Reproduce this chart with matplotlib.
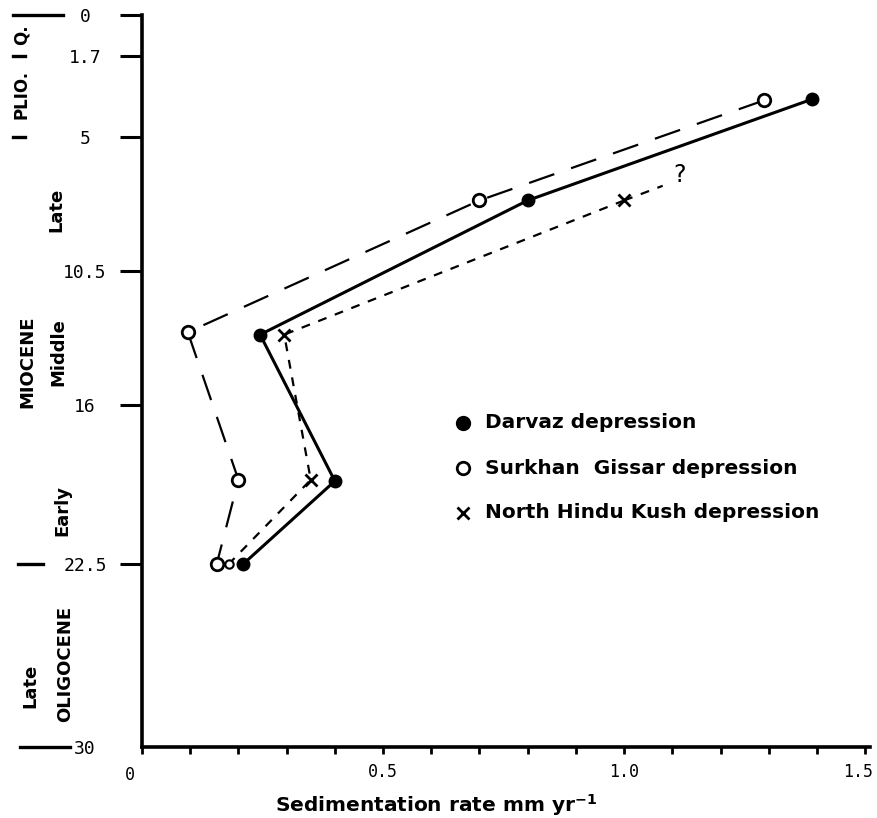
import matplotlib
matplotlib.use('Agg')
import matplotlib.pyplot as plt
import matplotlib.transforms as mtransforms

# sedimentation rate (mm/yr) vs age (Ma)
darvaz_rate = [1.39, 0.80, 0.245, 0.40, 0.21]
darvaz_age = [3.45, 7.6, 13.1, 19.1, 22.5]

surkhan_rate = [1.29, 0.70, 0.095, 0.20, 0.155]
surkhan_age = [3.5, 7.6, 13.0, 19.05, 22.5]

nhk_rate = [1.0, 0.295, 0.35, 0.18]
nhk_age = [7.6, 13.1, 19.05, 22.5]
# uncertain extension towards the "?"
nhk_q_rate = [1.0, 1.08]
nhk_q_age = [7.6, 7.0]

y_ticks = [0, 1.7, 5, 10.5, 16, 22.5, 30]
y_ticklabels = ['0', '1.7', '5', '10.5', '16', '22.5', '30']
x_ticks = [i / 10 for i in range(16)]
x_ticklabels = ['0', '', '', '', '', '0.5', '', '', '', '', '1.0', '', '', '', '', '1.5']

fig = plt.figure(figsize=(8.77, 8.18), dpi=100)
ax = fig.add_axes([142/877, 1 - 747/818, 728/877, 732/818])
ax.set_xlim(0, 1.51)
ax.set_ylim(30, 0)

for s in ['top', 'right']:
    ax.spines[s].set_visible(False)
for s in ['left', 'bottom']:
    ax.spines[s].set_linewidth(2.6)

# lines
ax.plot(darvaz_rate, darvaz_age, color='black', lw=2.2, marker='o', ms=9,
        mfc='black', mec='black', zorder=3)
ax.plot(surkhan_rate, surkhan_age, color='black', lw=1.6, ls=(0, (12, 8)),
        marker='o', ms=9, mfc='white', mec='black', mew=2, zorder=4)
ax.plot(nhk_rate, nhk_age, color='black', lw=1.6, ls=(0, (4, 4)),
        marker='x', ms=9, mew=2, markevery=[0, 1, 2], zorder=2)
ax.plot(nhk_rate[-1:], nhk_age[-1:], ls='none', marker='o', ms=6,
        mfc='white', mec='black', mew=1.5, zorder=2)
ax.plot(nhk_q_rate, nhk_q_age, color='black', lw=1.6, ls=(0, (4, 4)), zorder=2)
ax.text(nhk_q_rate[-1] + 0.035, nhk_q_age[-1] - 0.45, '?', fontsize=17,
        ha='center', va='center')

# y axis ticks
ax.set_yticks(y_ticks)
ax.set_yticklabels(y_ticklabels, fontfamily='DejaVu Sans Mono', fontsize=13)
ax.tick_params(axis='y', direction='out', length=16, width=2.2, pad=25)
for lab in ax.get_yticklabels():
    lab.set_ha('center')
ax.yaxis.get_major_ticks()[-1].tick1line.set_visible(False)

# x axis ticks
ax.set_xticks(x_ticks)
ax.set_xticklabels(x_ticklabels, fontfamily='DejaVu Sans Mono', fontsize=12)
ax.tick_params(axis='x', direction='out', length=5, width=2, pad=6.5)
xlabs = ax.get_xticklabels()
xlabs[0].set_transform(xlabs[0].get_transform() +
                       mtransforms.ScaledTranslation(-12/100, -3/100, fig.dpi_scale_trans))
xlabs[-1].set_transform(xlabs[-1].get_transform() +
                        mtransforms.ScaledTranslation(-7/100, 0, fig.dpi_scale_trans))

ax.set_xlabel(r'Sedimentation rate mm yr$^{\mathbf{-1}}$', fontsize=14.5, fontweight='bold')
ax.xaxis.set_label_coords((436 - 142) / 728, -0.062)

# stratigraphic labels on the left
yt = ax.get_yaxis_transform()
periods = [
    ('Q.', -0.165, 0.82, 12),
    ('PLIO.', -0.165, 3.25, 12),
    ('Late', -0.117, 8.0, 13),
    ('Middle', -0.115, 13.8, 13),
    ('MIOCENE', -0.158, 14.2, 13),
    ('Early', -0.110, 20.3, 13),
    ('Late', -0.154, 27.5, 13),
    ('OLIGOCENE', -0.106, 26.6, 13),
]
for txt, xx, yy, fs in periods:
    ax.text(xx, yy, txt, transform=yt, rotation=90, ha='center', va='center',
            fontsize=fs, fontweight='bold', clip_on=False)

bounds = [(0, -0.177, -0.109), (1.7, -0.177, -0.161), (5, -0.177, -0.161),
          (22.5, -0.170, -0.136), (30, -0.168, -0.099)]
for yy, x0, x1 in bounds:
    ax.plot([x0, x1], [yy, yy], color='black', lw=2.4, transform=yt, clip_on=False)

# legend
leg = [('o', 'black', 'Darvaz depression', 0.443),
       ('o', 'white', 'Surkhan  Gissar depression', 0.381),
       ('x', 'black', 'North Hindu Kush depression', 0.320)]
for m, fc, lab, yy in leg:
    ax.plot([0.441], [yy], marker=m, ms=9 if m == 'o' else 8, mfc=fc, mec='black',
            mew=2, ls='none', transform=ax.transAxes, clip_on=False)
    ax.text(0.471, yy, lab, transform=ax.transAxes, fontsize=14.5,
            fontweight='bold', ha='left', va='center')

plt.savefig('out.png', dpi=100)
